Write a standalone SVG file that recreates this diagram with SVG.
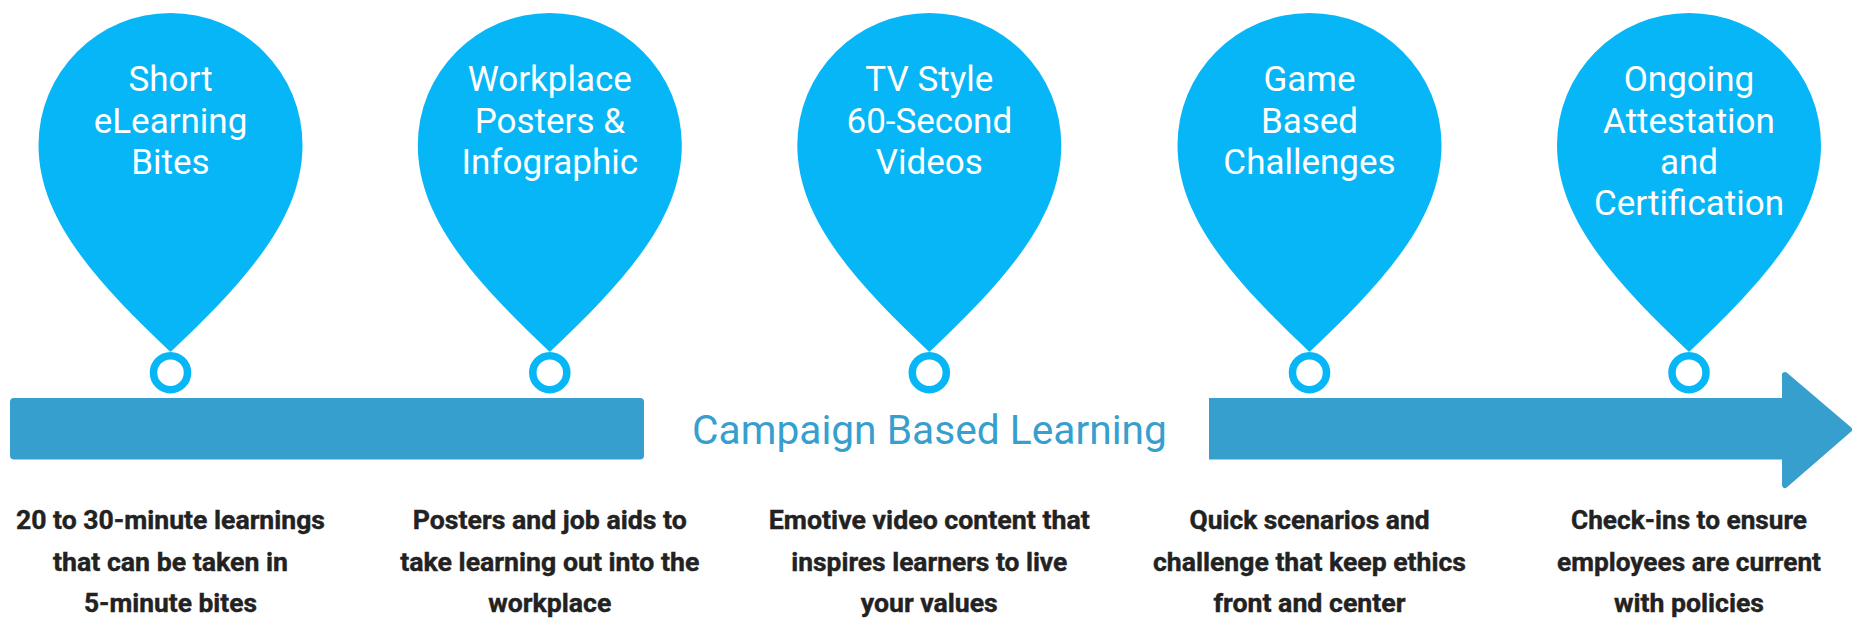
<svg xmlns="http://www.w3.org/2000/svg" width="1853" height="620" viewBox="0 0 1853 620">
<defs>
<style>
.pin{fill:#06b6f7}
.ring{fill:#ffffff;stroke:#06b6f7;stroke-width:7.5}
.pt{font-family:Roboto,"Liberation Sans",sans-serif;font-size:35px;fill:#ffffff;text-anchor:middle}
.bt{font-family:Roboto,"Liberation Sans",sans-serif;font-size:25.5px;font-weight:700;fill:#222222;stroke:#222222;stroke-width:0.4;text-anchor:middle}
.bar{fill:#379fce}
.ct{font-family:Roboto,"Liberation Sans",sans-serif;font-size:40.7px;fill:#379fce;text-anchor:middle}
</style>
<path id="pinShape" d="M 0 352 C -76 280 -132 218 -132 145 A 132 132 0 0 1 132 145 C 132 218 76 280 0 352 Z"/>
</defs>
<rect width="1853" height="620" fill="#ffffff"/>
<g id="connectors">
<g id="timeline-arrow">
<rect class="bar" x="10" y="398" width="634" height="61.5" rx="4"/>
<rect class="bar" x="1209" y="398" width="576" height="61.5"/>
<polygon class="bar" points="1785,375 1849,429.5 1785,485" stroke="#379fce" stroke-width="6" stroke-linejoin="round"/>
</g>
<text id="campaign-label" class="ct" x="929.5" y="444">Campaign Based Learning</text>
</g>
<g id="node-1" transform="translate(170.5,0)">
<use href="#pinShape" class="pin"/>
<circle class="ring" cx="0" cy="372.7" r="17"/>
<text class="pt" x="0" y="91">Short</text>
<text class="pt" x="0" y="132.5">eLearning</text>
<text class="pt" x="0" y="173.5">Bites</text>
<text class="bt" x="0" y="528.5" textLength="309" lengthAdjust="spacingAndGlyphs">20 to 30-minute learnings</text>
<text class="bt" x="0" y="570.5" textLength="235" lengthAdjust="spacingAndGlyphs">that can be taken in</text>
<text class="bt" x="0" y="611.5" textLength="173" lengthAdjust="spacingAndGlyphs">5-minute bites</text>
</g>
<g id="node-2" transform="translate(549.8,0)">
<use href="#pinShape" class="pin"/>
<circle class="ring" cx="0" cy="372.7" r="17"/>
<text class="pt" x="0" y="91">Workplace</text>
<text class="pt" x="0" y="132.5">Posters &amp;</text>
<text class="pt" x="0" y="173.5">Infographic</text>
<text class="bt" x="0" y="528.5" textLength="274" lengthAdjust="spacingAndGlyphs">Posters and job aids to</text>
<text class="bt" x="0" y="570.5" textLength="299" lengthAdjust="spacingAndGlyphs">take learning out into the</text>
<text class="bt" x="0" y="611.5" textLength="123" lengthAdjust="spacingAndGlyphs">workplace</text>
</g>
<g id="node-3" transform="translate(929.3,0)">
<use href="#pinShape" class="pin"/>
<circle class="ring" cx="0" cy="372.7" r="17"/>
<text class="pt" x="0" y="91">TV Style</text>
<text class="pt" x="0" y="132.5">60-Second</text>
<text class="pt" x="0" y="173.5">Videos</text>
<text class="bt" x="0" y="528.5" textLength="321" lengthAdjust="spacingAndGlyphs">Emotive video content that</text>
<text class="bt" x="0" y="570.5" textLength="276" lengthAdjust="spacingAndGlyphs">inspires learners to live</text>
<text class="bt" x="0" y="611.5" textLength="137" lengthAdjust="spacingAndGlyphs">your values</text>
</g>
<g id="node-4" transform="translate(1309.5,0)">
<use href="#pinShape" class="pin"/>
<circle class="ring" cx="0" cy="372.7" r="17"/>
<text class="pt" x="0" y="91">Game</text>
<text class="pt" x="0" y="132.5">Based</text>
<text class="pt" x="0" y="173.5">Challenges</text>
<text class="bt" x="0" y="528.5" textLength="240" lengthAdjust="spacingAndGlyphs">Quick scenarios and</text>
<text class="bt" x="0" y="570.5" textLength="313" lengthAdjust="spacingAndGlyphs">challenge that keep ethics</text>
<text class="bt" x="0" y="611.5" textLength="192" lengthAdjust="spacingAndGlyphs">front and center</text>
</g>
<g id="node-5" transform="translate(1689,0)">
<use href="#pinShape" class="pin"/>
<circle class="ring" cx="0" cy="372.7" r="17"/>
<text class="pt" x="0" y="91">Ongoing</text>
<text class="pt" x="0" y="132.5">Attestation</text>
<text class="pt" x="0" y="173.5">and</text>
<text class="pt" x="0" y="215">Certification</text>
<text class="bt" x="0" y="528.5" textLength="236" lengthAdjust="spacingAndGlyphs">Check-ins to ensure</text>
<text class="bt" x="0" y="570.5" textLength="264" lengthAdjust="spacingAndGlyphs">employees are current</text>
<text class="bt" x="0" y="611.5" textLength="150" lengthAdjust="spacingAndGlyphs">with policies</text>
</g>
</svg>
